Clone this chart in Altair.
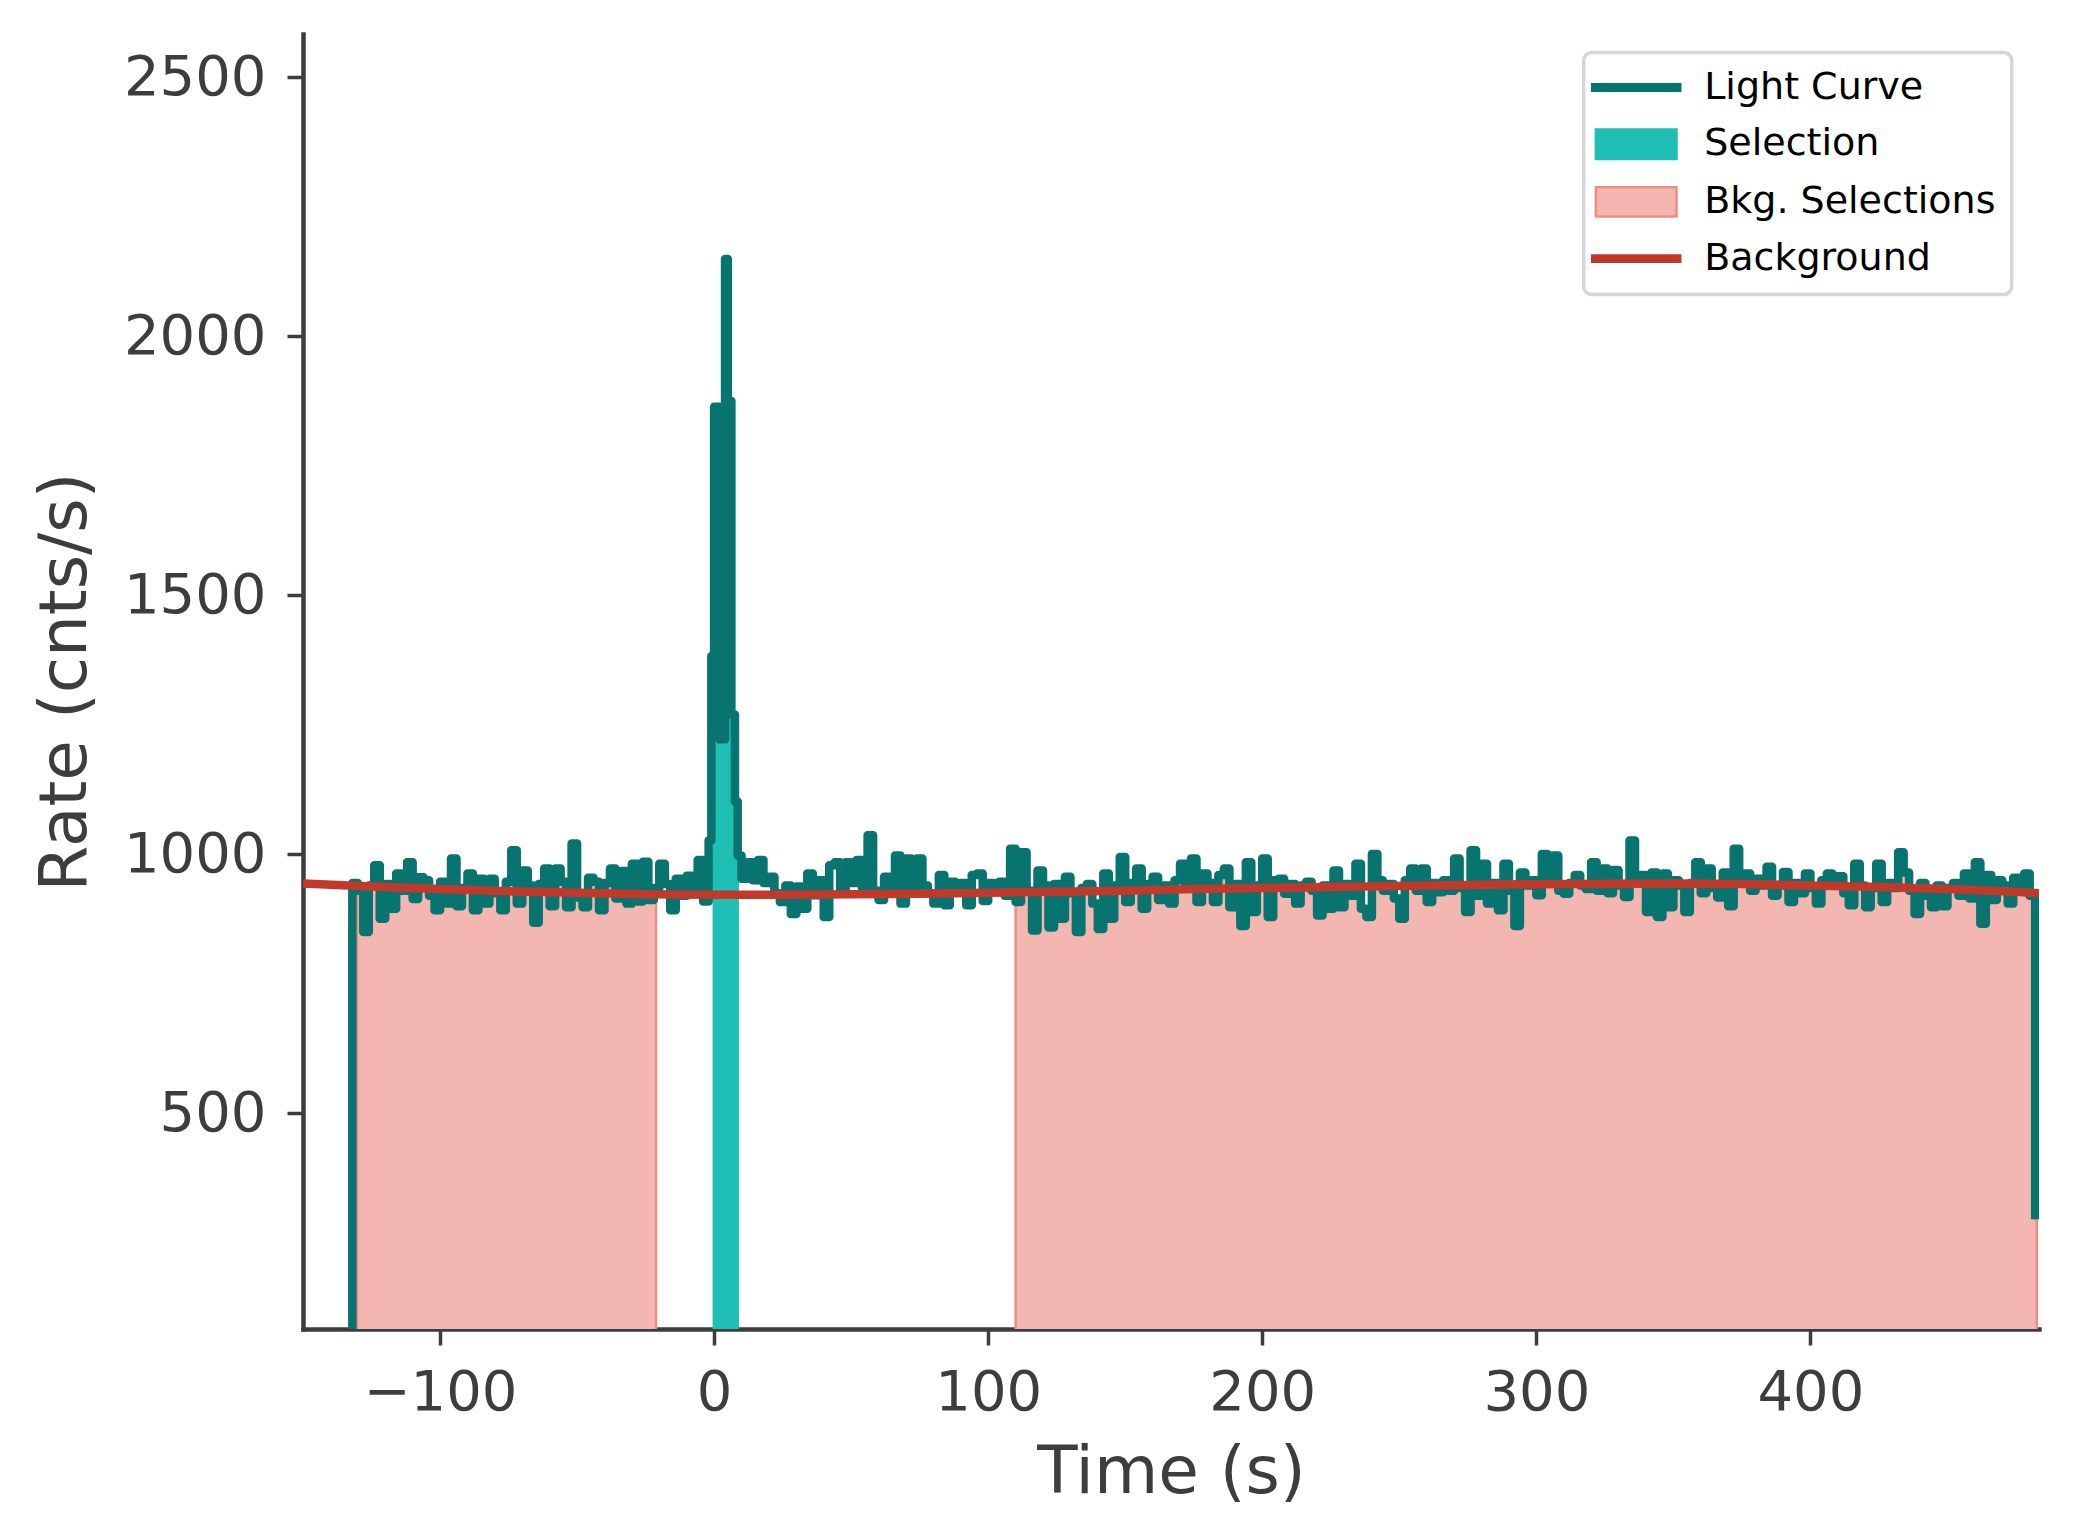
import altair as alt
import pandas as pd

# ---------------- data ----------------
# light curve (step-after): leading bin below the axis, pre-burst bins (2 s),
# the burst, post-burst bins (2 s) and a final partial bin
lc_lead_time = [-133.0]
lc_lead_rate = [0.0]

rate_pre = [945, 930, 850, 940, 979, 876, 943, 895, 963, 930,
            985, 914, 956, 950, 920, 892, 947, 905, 992, 900,
            935, 963, 892, 953, 905, 953, 925, 892, 947, 1008,
            905, 969, 940, 868, 943, 973, 900, 973, 947, 898,
            1021, 917, 898, 955, 947, 892, 945, 973, 915, 968,
            905, 982, 909, 986, 912, 935, 982, 943, 892, 953,
            920, 959, 930, 989, 909]

peak_time = [-2.0, -1.0, 0.0, 2.0, 4.0, 5.0, 6.3, 7.6, 8.6]
peak_rate = [1027, 1383, 1864, 1222, 2149, 1875, 1270, 1102, 998]

rate_post = [953, 985, 950, 989, 945, 957, 925, 908, 940, 885,
             938, 895, 963, 921, 950, 879, 979, 985, 930, 985,
             945, 989, 925, 1037, 930, 912, 957, 935, 998, 905,
             992, 935, 992, 940, 925, 905, 960, 902, 947, 930,
             945, 902, 960, 963, 910, 945, 940, 947, 920, 1011,
             908, 1004, 930, 853, 969, 940, 859, 943, 876, 957,
             925, 850, 935, 943, 905, 856, 963, 876, 940, 995,
             908, 945, 973, 895, 943, 957, 912, 940, 905, 950,
             982, 935, 992, 908, 963, 945, 908, 960, 973, 898,
             943, 862, 985, 889, 940, 992, 879, 950, 953, 924,
             943, 905, 940, 947, 930, 882, 940, 895, 969, 898,
             943, 920, 982, 895, 879, 1001, 950, 930, 943, 915,
             876, 950, 973, 930, 973, 908, 945, 927, 950, 930,
             992, 935, 889, 1008, 920, 982, 905, 945, 892, 982,
             930, 862, 965, 940, 950, 921, 1001, 950, 998, 930,
             924, 945, 960, 940, 933, 985, 930, 973, 925, 970,
             940, 918, 1027, 945, 960, 889, 965, 879, 963, 898,
             950, 940, 889, 945, 985, 925, 973, 935, 917, 965,
             900, 1011, 950, 963, 930, 953, 940, 976, 920, 940,
             966, 908, 945, 925, 963, 935, 905, 950, 963, 940,
             958, 925, 902, 982, 940, 898, 935, 982, 908, 945,
             935, 1004, 965, 930, 885, 945, 920, 898, 940, 900,
             935, 945, 920, 963, 915, 985, 866, 960, 912, 950,
             940, 905, 955, 935, 963, 920]

lc_end_time = [482.0]
lc_end_rate = [296.0]

# selections
sel_interval = [-0.55, 9.05]
bkg_intervals = [[-130.3, -21.2], [110.0, 482.6]]

# fitted background
bg_time = [-150, -125, -100, -75, -50, -25, 0, 25, 50, 75, 100, 125, 150,
           175, 200, 225, 250, 275, 300, 325, 350, 375, 400, 425, 450, 475, 483.4]
bg_rate = [944, 938, 933, 929, 926, 923, 922, 922, 923, 924, 926, 928, 930,
           933, 935, 937, 939, 941, 942.5, 943.5, 944, 943, 940, 937, 933, 928, 925]

# legend
legend_labels = ["Light Curve", "Selection", "Bkg. Selections", "Background"]
legend_fill = ["#077470", "#20bfb5", "#f4b6b1", "#c0392b"]
legend_edge = ["#077470", "#20bfb5", "#ef8d85", "#c0392b"]
legend_shape = [
    "M-2.75,-0.2L2.75,-0.2L2.75,0.2L-2.75,0.2Z",
    "M-2.52,-0.92L2.52,-0.92L2.52,0.92L-2.52,0.92Z",
    "M-2.52,-0.92L2.52,-0.92L2.52,0.92L-2.52,0.92Z",
    "M-2.75,-0.2L2.75,-0.2L2.75,0.2L-2.75,0.2Z",
]

x_ticks = [-100, 0, 100, 200, 300, 400]
y_ticks = [500, 1000, 1500, 2000, 2500]
x_domain = [-150, 483.4]
y_domain = [84, 2583.4]

# ---------------- tables ----------------
time_pre = [-132 + 2 * i for i in range(len(rate_pre))]
time_post = [10 + 2 * i for i in range(len(rate_post))]
lc_time = lc_lead_time + time_pre + peak_time + time_post + lc_end_time
lc_rate = lc_lead_rate + rate_pre + peak_rate + rate_post + lc_end_rate

lc_df = pd.DataFrame({"t": lc_time, "rate": lc_rate})


def step_value(x):
    v = lc_rate[0]
    for tt, rr in zip(lc_time, lc_rate):
        if tt <= x:
            v = rr
        else:
            break
    return v


def fill_rows(a, b, name):
    rows = [{"t": a, "rate": step_value(a), "base": 0.0, "seg": name}]
    for tt, rr in zip(lc_time, lc_rate):
        if a < tt < b:
            rows.append({"t": tt, "rate": rr, "base": 0.0, "seg": name})
    rows.append({"t": b, "rate": step_value(b), "base": 0.0, "seg": name})
    return rows


bkg_rows = []
for i, (a, b) in enumerate(bkg_intervals):
    bkg_rows += fill_rows(a, b, f"b{i}")
bkg_df = pd.DataFrame(bkg_rows)
sel_df = pd.DataFrame(fill_rows(sel_interval[0], sel_interval[1], "s"))
bg_df = pd.DataFrame({"t": bg_time, "rate": bg_rate})
leg_df = pd.DataFrame({"series": legend_labels})

# ---------------- encodings ----------------
AX = "#3d3d3d"
X = alt.X("t:Q", scale=alt.Scale(domain=x_domain, nice=False, zero=False),
          axis=alt.Axis(values=x_ticks, title="Time (s)", format="d",
                        labelExpr="replace(datum.label, '-', '\u2212')",
                        titlePadding=20, labelPadding=20))
Y = alt.Y("rate:Q", scale=alt.Scale(domain=y_domain, nice=False, zero=False),
          axis=alt.Axis(values=y_ticks, title="Rate (cnts/s)", format="d",
                        titlePadding=24, labelPadding=21))

bkg_layer = alt.Chart(bkg_df).mark_area(
    interpolate="step-after", clip=True, color="#f4b6b1", fillOpacity=1,
    stroke="#ef8d85", strokeWidth=2.5
).encode(x=X, y=Y, y2="base:Q", detail="seg:N")

sel_layer = alt.Chart(sel_df).mark_area(
    interpolate="step-after", clip=True, color="#20bfb5", fillOpacity=1
).encode(x=X, y=Y, y2="base:Q")

lc_layer = alt.Chart(lc_df).mark_line(
    interpolate="step-after", clip=True, color="#077470", strokeWidth=8.5,
    strokeJoin="round"
).encode(x=X, y=Y)

bg_layer = alt.Chart(bg_df).mark_line(
    clip=True, color="#c0392b", strokeWidth=8.5
).encode(x=X, y=Y)

legend = alt.Legend(
    title=None, orient="none", legendX=1280.7, legendY=18.5, padding=16,
    symbolOffset=17.5, labelOffset=49, rowPadding=17.7, symbolSize=1024,
    symbolStrokeWidth=2.5, symbolOpacity=1, labelFontSize=38, labelFont="DejaVu Sans",
    labelColor="#000000", labelLimit=1000, fillColor="#ffffff",
    strokeColor="#d6d6d6", cornerRadius=8,
)

leg_layer = alt.Chart(leg_df).mark_point(
    filled=True, size=1024, opacity=1, strokeWidth=2.5, clip=True
).encode(
    x=alt.value(-3000), y=alt.value(-3000),
    fill=alt.Fill("series:N", scale=alt.Scale(domain=legend_labels, range=legend_fill),
                  legend=legend),
    stroke=alt.Stroke("series:N", scale=alt.Scale(domain=legend_labels, range=legend_edge)),
    shape=alt.Shape("series:N", scale=alt.Scale(domain=legend_labels, range=legend_shape)),
)

chart = alt.layer(bkg_layer, sel_layer, lc_layer, bg_layer, leg_layer).properties(
    width=1736, height=1295,
    autosize=alt.AutoSizeParams(type="none"),
    padding={"left": 303, "top": 34, "right": 34, "bottom": 211},
    background="white",
).configure_view(strokeWidth=0).configure_axis(
    domainColor=AX, domainWidth=4.5, domainCap="square",
    tickColor=AX, tickWidth=3.5, tickSize=16,
    labelFont="DejaVu Sans", labelFontSize=56, labelColor=AX,
    labelFlush=False, labelOverlap=False,
    titleFont="DejaVu Sans", titleFontSize=66, titleFontWeight="normal", titleColor=AX,
    grid=False,
).configure_legend(strokeWidth=3.5)

chart.save("out.html", embed_options={"renderer": "svg", "actions": False})
